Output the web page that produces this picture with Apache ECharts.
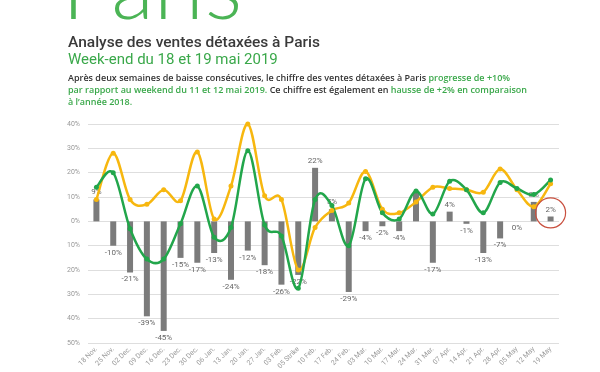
<!DOCTYPE html>
<html>
<head>
<meta charset="utf-8">
<script src="https://cdn.jsdelivr.net/npm/echarts@6/dist/echarts.min.js"></script>
<style>
html,body{margin:0;padding:0;background:#fff;}
#chart{width:600px;height:372px;}
</style>
</head>
<body>
<div id="chart"></div>
<script>
const categories = ['18 Nov.','25 Nov.','02 Dec.','09 Dec.','16 Dec.','23 Dec.','30 Dec.','06 Jan.','13 Jan.','20 Jan.','27 Jan.','03 Feb.','05 Strike','10 Feb.','17 Feb.','24 Feb.','03 Mar.','10 Mar.','17 Mar.','24 Mar.','31 Mar.','07 Apr.','14 Apr.','21 Apr.','28 Apr.','05 May','12 May','19 May'];
const barValues = [9,-10,-21,-39,-45,-15,-17,-13,-24,-12,-18,-26,-22,22,5,-29,-4,-2,-4,12,-17,4,-1,-13,-7,0,8,2];
const yellowValues = [9,28,9,7,13,8.5,28.5,1,14.5,40,10.5,9,-20,-2.5,4.5,7.5,20.5,5,3.5,8,14,13.5,13,12,21.5,13,6,15.5];
const greenValues = [14,20,-3,-15.5,-15.5,-1,14.5,-6.5,-2.5,29,-1.5,-6,-27.5,9,6.5,-10,17.5,3.5,1,12.5,3,16.5,13,3.5,16,13.5,11,17];
const yTicks = [-50,-40,-30,-20,-10,0,10,20,30,40];
const hiddenLabelIndex = [19];
const highlightIndex = 27;

const GREEN = '#22a64b';
const YELLOW = '#f7b70f';
const DARK = '#3a3a3a';
const TXT_GREEN = '#3aa84a';

const chart = echarts.init(document.getElementById('chart'), null, {renderer:'canvas'});

const barData = barValues.map((v, i) => ({
  value: v,
  label: {
    show: hiddenLabelIndex.indexOf(i) < 0,
    position: v > 0 ? 'top' : 'bottom'
  }
}));

// Excel-like (Catmull-Rom) smoothed curve through the points, placed with the chart's own scales
function smoothCurveSeries(name, values, color, z) {
  return {
    type: 'custom',
    name: name,
    data: values.map((v, i) => [i, v]),
    encode: {x: 0, y: 1},
    silent: true,
    z: z,
    renderItem: function (params, api) {
      if (params.dataIndex !== 0) return null;
      const pts = values.map((v, i) => api.coord([i, v]));
      let d = 'M' + pts[0][0] + ' ' + pts[0][1];
      for (let i = 0; i < pts.length - 1; i++) {
        const p0 = pts[i - 1] || pts[i], p1 = pts[i], p2 = pts[i + 1], p3 = pts[i + 2] || pts[i + 1];
        const c1x = p1[0] + (p2[0] - p0[0]) / 6, c1y = p1[1] + (p2[1] - p0[1]) / 6;
        const c2x = p2[0] - (p3[0] - p1[0]) / 6, c2y = p2[1] - (p3[1] - p1[1]) / 6;
        d += ' C' + c1x + ' ' + c1y + ' ' + c2x + ' ' + c2y + ' ' + p2[0] + ' ' + p2[1];
      }
      return {
        type: 'path',
        shape: {pathData: d},
        style: {stroke: color, lineWidth: 2.5, fill: 'none', lineJoin: 'round', lineCap: 'round'}
      };
    }
  };
}

function markerSeries(name, values, color, z) {
  return {
    type: 'line',
    name: name,
    data: values,
    symbol: 'circle', symbolSize: 5,
    lineStyle: {opacity: 0},
    itemStyle: {color: color},
    z: z
  };
}

const option = {
  animation: false,
  backgroundColor: '#fff',
  textStyle: {fontFamily: 'Roboto'},
  grid: {left: 88, right: 41, top: 124, bottom: 26, containLabel: false},
  xAxis: {
    type: 'category',
    data: categories,
    axisLine: {show: false},
    axisTick: {show: false},
    axisLabel: {interval: 0, rotate: 45, fontSize: 7, color: '#999', margin: 5, fontFamily: 'Roboto'}
  },
  yAxis: {
    type: 'value',
    min: yTicks[0], max: yTicks[yTicks.length - 1], interval: 10,
    axisLine: {show: false},
    axisTick: {show: false},
    splitLine: {lineStyle: {color: '#dedede', width: 1}},
    axisLabel: {fontSize: 7, color: '#999', margin: 8, formatter: v => Math.abs(v) + '%'}
  },
  series: [
    {
      type: 'bar',
      name: 'Évolution hebdomadaire',
      data: barData,
      barWidth: 6,
      itemStyle: {color: '#7b7b7b'},
      label: {show: true, fontSize: 8, color: '#666', distance: 3, formatter: p => p.value + '%'},
      markPoint: {
        silent: true,
        data: [{
          coord: [categories[highlightIndex], barValues[highlightIndex] + 1.5],
          symbol: 'circle', symbolSize: 30,
          itemStyle: {color: 'rgba(0,0,0,0)', borderColor: '#c9503f', borderWidth: 1.2},
          label: {show: false}
        }]
      },
      z: 1
    },
    smoothCurveSeries('Série jaune', yellowValues, YELLOW, 3),
    smoothCurveSeries('Série verte', greenValues, GREEN, 4),
    markerSeries('Série jaune', yellowValues, YELLOW, 5),
    markerSeries('Série verte', greenValues, GREEN, 6)
  ],
  graphic: [
    {type: 'text', left: 62, top: -53, style: {text: 'Paris', fontSize: 88, fontWeight: 300, fontFamily: 'Lato', fill: '#4bb455'}},
    {type: 'text', left: 68, top: 35, style: {text: 'Analyse des ventes détaxées à Paris', fontSize: 15.5, fontWeight: 500, fontFamily: 'Roboto', fill: DARK}},
    {type: 'text', left: 68, top: 53, style: {text: 'Week-end du 18 et 19 mai 2019', fontSize: 15, fontFamily: 'Roboto', fill: TXT_GREEN}},
    {type: 'text', left: 68, top: 74, style: {
      text: '{d|Après deux semaines de baisse consécutives, le chiffre des ventes détaxées à Paris }{g|progresse de +10%}\n{g|par rapport au weekend du 11 et 12 mai 2019.}{d| Ce chiffre est également en }{g|hausse de +2% en comparaison}\n{g|à l’année 2018.}',
      rich: {
        d: {fontSize: 9, fontWeight: 600, fontFamily: 'Open Sans', fill: '#333', lineHeight: 12},
        g: {fontSize: 9, fontWeight: 600, fontFamily: 'Open Sans', fill: TXT_GREEN, lineHeight: 12}
      }
    }}
  ]
};
chart.setOption(option);
</script>
</body>
</html>
